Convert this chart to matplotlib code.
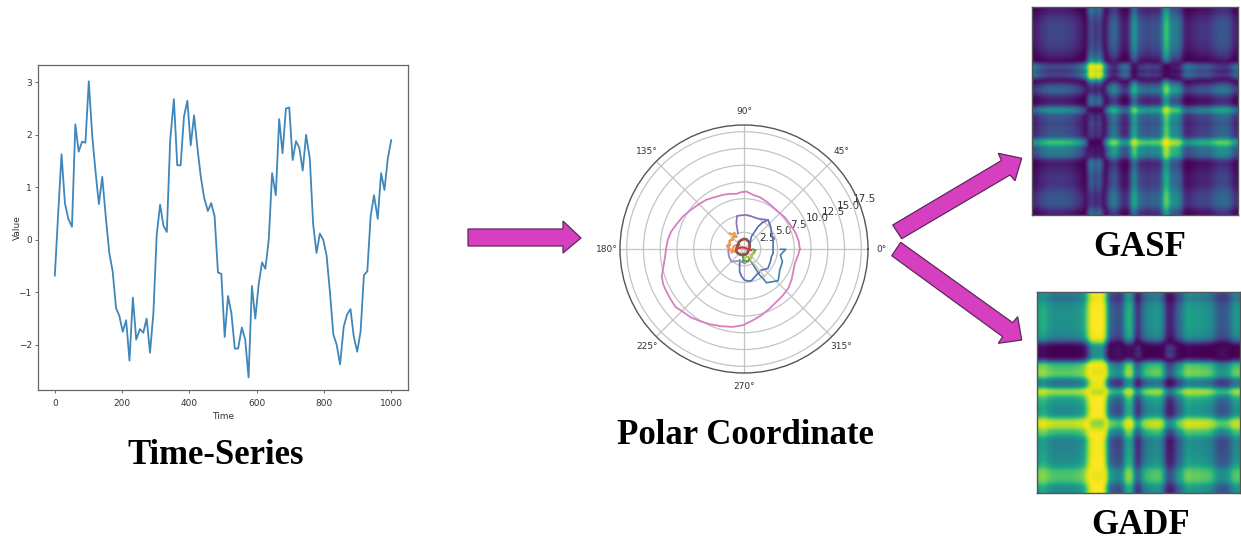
import numpy as np
from matplotlib import pyplot as plt
from matplotlib.patches import Polygon

W, H = 1241, 543

# ~~~~~~~~~~~~~~ time series ~~~~~~~~~~~~~~
time_pts = [0, 10, 20, 30, 40, 51, 61, 71, 81, 91, 101, 111, 121, 131, 141, 152, 162, 172, 182, 192,
            202, 212, 222, 232, 242, 253, 263, 273, 283, 293, 303, 313, 323, 333, 343, 354, 364, 374, 384, 394,
            404, 414, 424, 434, 444, 455, 465, 475, 485, 495, 505, 515, 525, 535, 545, 556, 566, 576, 586, 596,
            606, 616, 626, 636, 646, 657, 667, 677, 687, 697, 707, 717, 727, 737, 747, 758, 768, 778, 788, 798,
            808, 818, 828, 838, 848, 859, 869, 879, 889, 899, 909, 919, 929, 939, 949, 960, 970, 980, 990, 1000]
value_pts = [-0.68, 0.5, 1.63, 0.7, 0.4, 0.25, 2.2, 1.68, 1.87, 1.85, 3.02, 2.0, 1.3, 0.68, 1.2, 0.4, -0.25, -0.6, -1.3, -1.45,
             -1.75, -1.53, -2.3, -1.1, -1.9, -1.7, -1.77, -1.5, -2.15, -1.4, 0.1, 0.67, 0.27, 0.15, 1.9, 2.68, 1.42, 1.42, 2.35, 2.65,
             1.8, 2.37, 1.75, 1.2, 0.8, 0.55, 0.7, 0.45, -0.62, -0.65, -1.85, -1.07, -1.4, -2.07, -2.07, -1.67, -1.9, -2.62, -0.88, -1.5,
             -0.85, -0.43, -0.55, 0.0, 1.27, 0.85, 2.3, 1.65, 2.5, 2.52, 1.52, 1.88, 1.75, 1.32, 2.0, 1.55, 0.3, -0.25, 0.12, 0.0,
             -0.3, -1.0, -1.8, -2.0, -2.37, -1.65, -1.42, -1.32, -1.85, -2.13, -1.75, -0.67, -0.6, 0.45, 0.85, 0.4, 1.27, 0.95, 1.55, 1.9]

# ~~~~~~~~~~~~~~ polar curves (degrees, radius) ~~~~~~~~~~~~~~
pink_deg = [0, 7.6, 16.9, 27.4, 37.9, 45, 55.2, 64.7, 73.1, 80.5, 87.7, 92.7, 97.9, 104.6, 111.2, 119.6, 127.6, 136.3,
            145, 152.1, 159.5, 166.6, 173.2, 179.5, 185.6, 192.4, 198.6, 204.1, 209.7, 215, 220.2, 225.8, 232.4, 238.3,
            245.4, 253.6, 261.9, 269.2, 277.2, 284.7, 293.4, 301.5, 310.3, 318.2, 326.8, 335.2, 344.2, 353.7, 360]
pink_r = [8.33, 8.25, 8.08, 7.81, 7.71, 7.55, 7.6, 7.83, 8.08, 8.19, 8.58, 8.49, 8.31, 8.5, 8.67, 8.89, 9.25, 9.52,
          9.92, 10.33, 10.7, 11.18, 11.45, 11.62, 11.83, 12.31, 12.95, 13.17, 13.2, 13.28, 13.38, 13.08, 12.91, 12.61,
          12.34, 12.01, 11.74, 11.37, 10.71, 10.21, 9.67, 9.25, 9.02, 8.83, 8.47, 8.08, 7.88, 8.13, 8.33]
blue_deg = [359.5, 359.5, 350.6, 341.7, 329.5, 323.4, 317, 311, 303.6, 302.9, 301, 300.4, 300, 297.5]
blue_r = [5.44, 6.23, 5.5, 6.04, 6.19, 6.52, 6.95, 6.47, 6.05, 5.23, 4.54, 3.36, 2.19, 1.3]
arc_deg = [35, 59.3, 58.4, 57.9, 55.2, 50.4, 40, 29.8, 17, 4.6, 351.5, 344.3, 334.3, 321, 315.5, 309.5, 295.4, 283,
           277, 271, 264.4, 259, 248.5]
arc_r = [1.04, 2.15, 3.05, 3.94, 4.8, 5.63, 5.2, 4.71, 4.54, 4.35, 4.39, 4.25, 4.37, 4.6, 4.34, 4.07, 4.3, 4.86,
         4.82, 4.64, 4.06, 3.45, 1.77]
purple_deg = [111, 106.6, 102, 94.5, 86, 77.3, 68, 58.3, 50.4]
purple_r = [2.5, 4.0, 5.05, 5.05, 5.1, 5.0, 4.95, 5.22, 5.63]
purple2_deg = [165, 185, 207, 225, 249.6, 272.7, 297]
purple2_r = [2.3, 2.3, 2.52, 2.68, 1.87, 2.15, 1.85]
orange_deg = [132.5, 126, 119.7, 128, 119.6, 132, 140.7, 150, 163.7, 170, 177, 188, 196, 180, 150, 165, 196]
orange_r = [3.18, 2.7, 2.81, 2.45, 2.12, 2.4, 2.13, 2.5, 2.13, 2.6, 2.25, 1.9, 1.45, 1.0, 1.2, 1.6, 1.9]
brown_deg = [146, 125, 106.5, 90, 76.4, 55, 35, 0, 326, 295, 260.5, 240, 215.8, 200, 182.5, 165, 146]
brown_r = [1.08, 1.3, 1.4, 1.5, 1.49, 1.3, 1.04, 0.8, 0.72, 0.85, 0.91, 1.0, 1.11, 1.2, 1.15, 1.0, 1.08]
red_deg = [175, 121, 352]
red_r = [1.15, 0.29, 1.11]
green_deg = [257, 265.5, 276, 287.5, 300, 313.7, 330, 355, 358]
green_r = [0.67, 1.9, 1.7, 1.99, 1.6, 1.59, 1.45, 1.75, 1.35]
olive_deg = [274, 290, 308, 325, 338]
olive_r = [1.4, 1.2, 1.78, 1.35, 1.72]
tan_deg = [297.6, 306.8]
tan_r = [1.3, 5.17]

# ~~~~~~~~~~~~~~ angle profiles behind the two gramian images ~~~~~~~~~~~~~~
gasf_phi = [1.65, 1.7, 1.85, 1.95, 2.0, 2.05, 2.05, 2.05, 2.05, 2.05, 2.0, 2.0, 1.95, 1.85, 1.75, 1.6, 1.3, 0.2, 0.05, 0.4, 0.05,
            0.5, 1.5, 2.05, 2.3, 2.35, 2.05, 1.75, 1.65, 1.75, 2.5, 2.8, 2.3, 2.15, 2.15, 2.05, 2.15, 2.15, 2.15, 2.3, 3.05, 3.1,
            2.55, 2.5, 2.5, 2.3, 1.8, 1.65, 1.7, 1.8, 1.85, 1.9, 1.9, 1.9, 1.95, 2.05, 2.15, 2.2, 2.2, 2.2, 2.1, 1.85, 1.7]
gadf_phi = [-.15, -.25, -.25, -.1, -.05, 0, 0, 0, 0, 0, 0, -.02, -.05, -.1, -.2, -.6, -1.2, -1.5, -1.45, -1.5, -1.45,
            -.7, .3, .4, .5, .55, .4, -.15, -.3, -.2, .6, .85, .4, .15, .05, 0, -.05, -.05, 0, .4, .95, .95,
            .8, .4, .3, .05, -.15, -.15, -.1, -.1, -.1, -.05, -.05, 0, .1, .3, .45, .45, .45, .35, .1, -.05, -.05]

# arrow outlines in picture pixels
arrow_mid = [(468, 229), (563, 229), (563, 221), (581, 238), (563, 253), (563, 246), (468, 246)]
arrow_up = [(892.7, 225), (1001.5, 160.5), (998.3, 153.3), (1021.7, 158.3), (1015, 180.7), (1010, 175), (901.7, 238.7)]
arrow_down = [(900.7, 242.3), (1012.7, 322.7), (1017.7, 316.7), (1021.7, 340), (998.3, 343.3), (1002.7, 336.7), (891.7, 255.7)]

plt.rcParams['font.family'] = 'DejaVu Sans'
plt.rcParams['text.color'] = '#333333'
plt.rcParams['axes.labelcolor'] = '#333333'
plt.rcParams['xtick.labelcolor'] = '#333333'
plt.rcParams['ytick.labelcolor'] = '#333333'


def px_axes(left, top, right, bottom, **kw):
    return fig.add_axes([left / W, 1 - bottom / H, (right - left) / W, (bottom - top) / H], **kw)


fig = plt.figure(figsize=(W / 100, H / 100), dpi=100)

# ~~~~~~~~~~~~~~ left line chart ~~~~~~~~~~~~~~
ax = px_axes(38, 65, 408, 390)
ax.plot(time_pts, value_pts, color='#3f86ba', lw=1.3)
ax.set_xlim(-50, 1050)
ax.set_ylim(-2.86, 3.33)
ax.set_xticks([0, 200, 400, 600, 800, 1000])
ax.set_yticks([-2, -1, 0, 1, 2, 3])
ax.set_yticklabels(['\u22122', '\u22121', '0', '1', '2', '3'])
ax.tick_params(labelsize=6.5, length=2.5, width=0.6, pad=2, color='#555555')
ax.tick_params(axis='x', pad=4)
ax.set_xlabel('Time', fontsize=6.5, labelpad=3)
ax.set_ylabel('Value', fontsize=6.5, labelpad=-2.5)
for s in ax.spines.values():
    s.set_color('#666666')
    s.set_linewidth(0.9)

# ~~~~~~~~~~~~~~ polar chart ~~~~~~~~~~~~~~
pax = px_axes(620, 125, 868, 373, projection='polar')
curves = [(blue_deg, blue_r, '#3f7fb0', 1.2), (arc_deg, arc_r, '#4f6fb8', 1.2), (purple_deg, purple_r, '#8a6cc0', 1.2),
          (purple2_deg, purple2_r, '#a583c8', 1.2), (tan_deg, tan_r, '#cfc9a0', 1.0), (pink_deg, pink_r, '#d77fc0', 1.3),
          (green_deg, green_r, '#4aa84a', 1.3), (olive_deg, olive_r, '#c4c040', 1.3), (orange_deg, orange_r, '#f2964a', 1.5),
          (brown_deg, brown_r, '#8c564b', 2.0), (red_deg, red_r, '#d03c3c', 1.6)]
for deg, r, col, lw in curves:
    pax.plot(np.deg2rad(deg), r, color=col, lw=lw)
pax.set_rlim(0, 18.5)
pax.set_rticks([2.5, 5.0, 7.5, 10.0, 12.5, 15.0, 17.5])
pax.set_rlabel_position(22.5)
pax.set_thetagrids(range(0, 360, 45))
pax.tick_params(labelsize=6.5, pad=-1)
pax.tick_params(axis='y', labelsize=7.5)
pax.grid(color='#c4c4c4', lw=0.9)
pax.spines['polar'].set_color('#555555')
pax.spines['polar'].set_linewidth(1.0)

# ~~~~~~~~~~~~~~ gramian images ~~~~~~~~~~~~~~
phi = np.array(gasf_phi)
gasf = np.cos(phi[:, None] + phi[None, :])
psi = np.array(gadf_phi)
gadf = np.sin(psi[:, None] - psi[None, :])

for mat, box in [(gasf, (1032, 7, 1238, 215)), (gadf, (1037, 292, 1240, 493))]:
    iax = px_axes(*box)
    iax.imshow(mat, cmap='viridis', vmin=-1, vmax=1, aspect='auto', interpolation='bicubic')
    iax.set_xticks([])
    iax.set_yticks([])
    for s in iax.spines.values():
        s.set_color('#555555')
        s.set_linewidth(1.0)

# ~~~~~~~~~~~~~~ overlay: arrows and captions ~~~~~~~~~~~~~~
over = fig.add_axes([0, 0, 1, 1], facecolor='none')
over.set_xlim(0, W)
over.set_ylim(H, 0)
over.axis('off')
for pts in [arrow_mid, arrow_up, arrow_down]:
    over.add_patch(Polygon(pts, closed=True, facecolor='#d63fc0', edgecolor='#5a2a5a', lw=0.9))

captions = [('Time-Series', 216, 456), ('Polar Coordinate', 745, 435), ('GASF', 1140, 248), ('GADF', 1141, 526)]
for label, x, y in captions:
    over.text(x, y, label, family='Liberation Serif', fontweight='bold', fontsize=25, color='black',
              ha='center', va='center')

fig.savefig('out.png', dpi=100)
